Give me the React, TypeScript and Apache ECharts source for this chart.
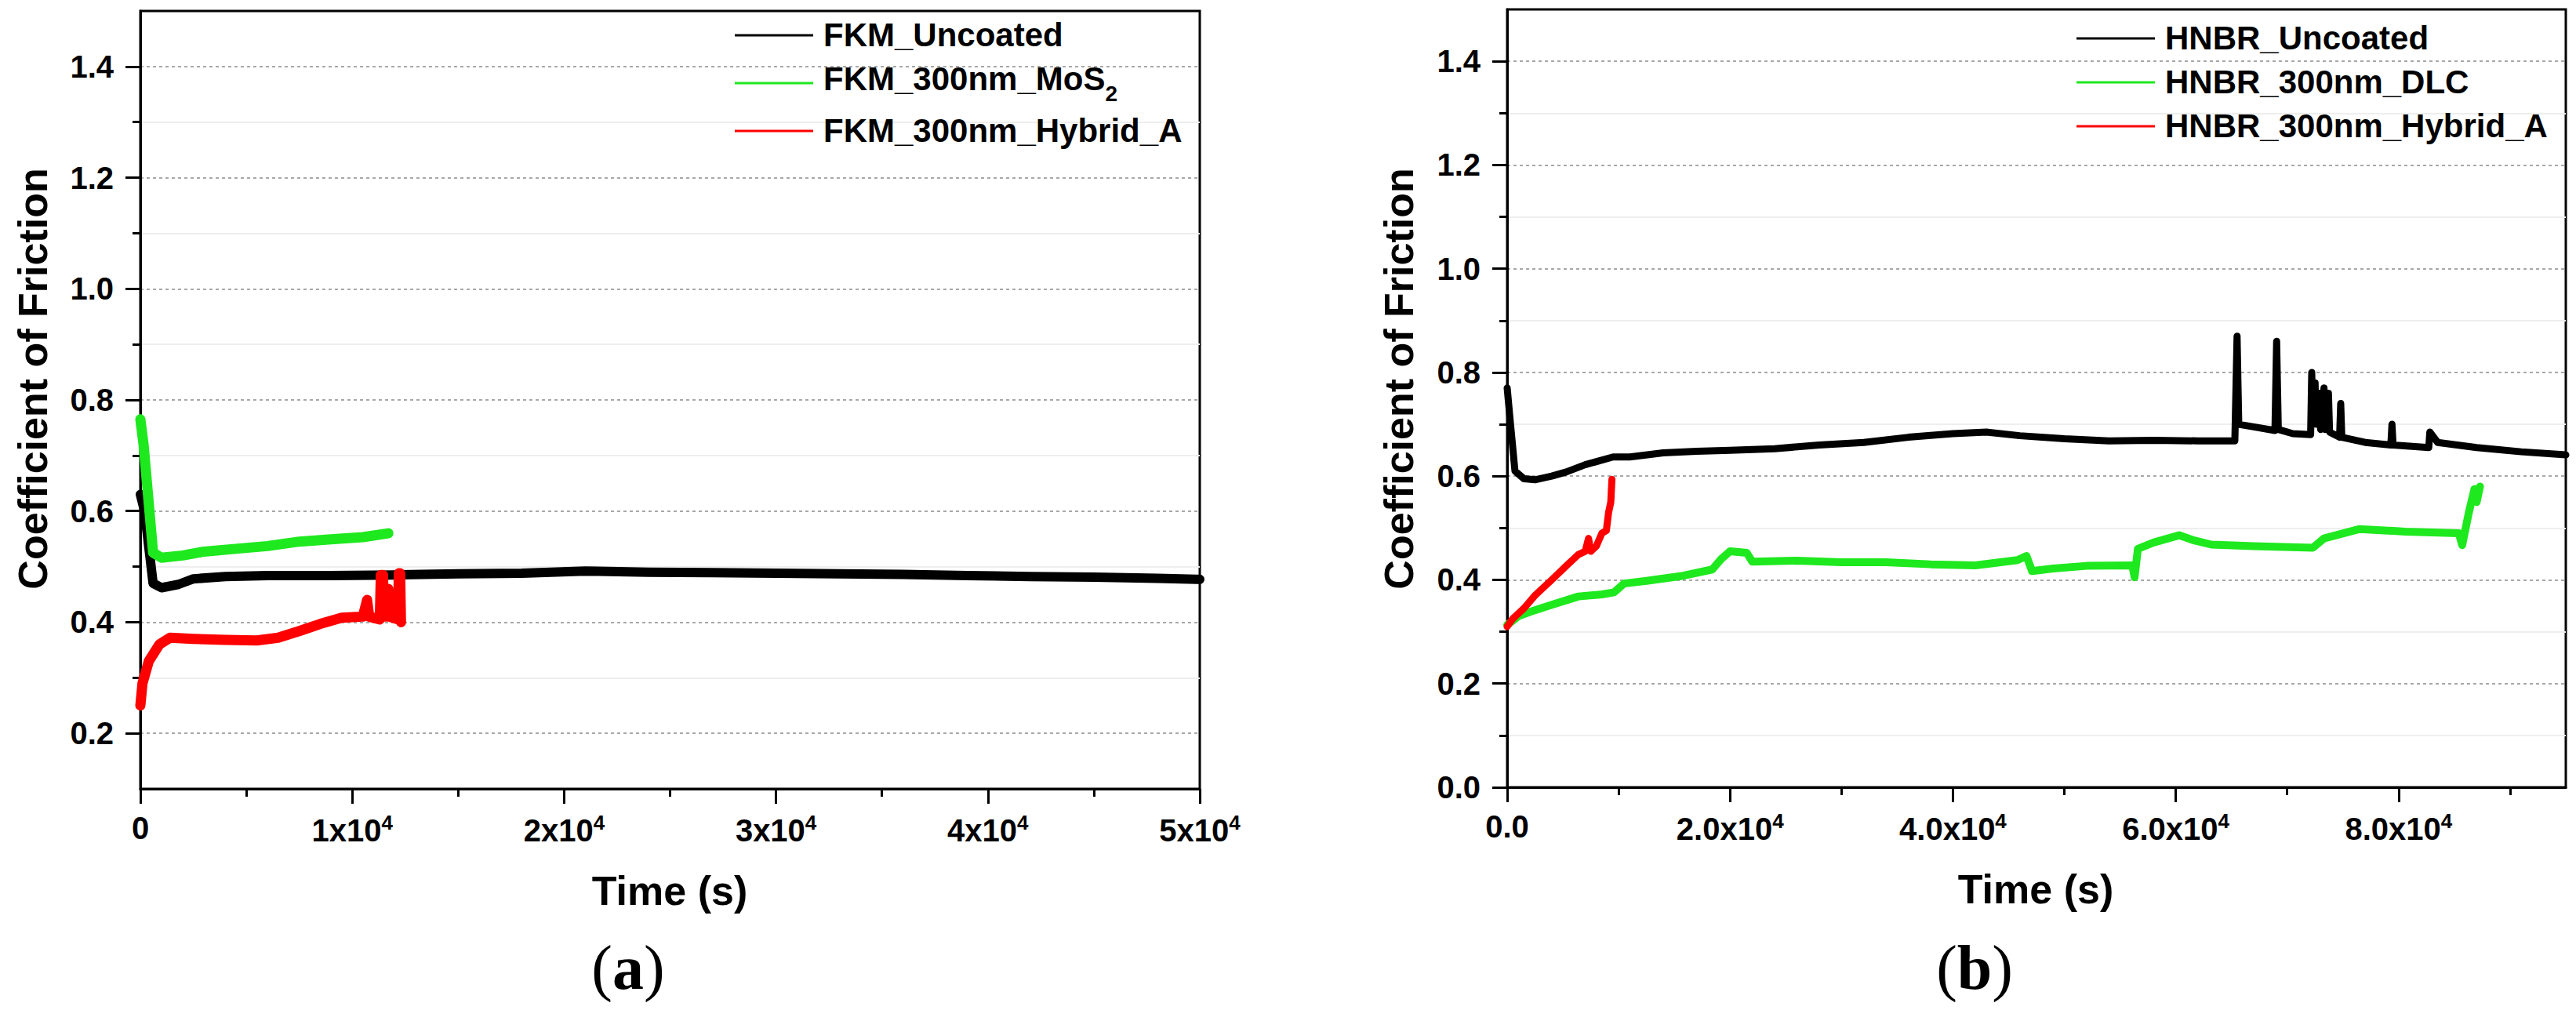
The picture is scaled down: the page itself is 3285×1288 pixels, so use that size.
import React, { useEffect, useRef } from "react";
import * as echarts from "echarts";

// ---------- tick values ----------
const leftXMajor = [0, 10000, 20000, 30000, 40000, 50000];
const leftXMinor = [5000, 15000, 25000, 35000, 45000];
const leftYMajor = [0.2, 0.4, 0.6, 0.8, 1.0, 1.2, 1.4];
const leftYMinor = [0.3, 0.5, 0.7, 0.9, 1.1, 1.3];
const rightXMajor = [0, 20000, 40000, 60000, 80000];
const rightXMinor = [10000, 30000, 50000, 70000, 90000];
const rightYMajor = [0, 0.2, 0.4, 0.6, 0.8, 1.0, 1.2, 1.4];
const rightYMinor = [0.1, 0.3, 0.5, 0.7, 0.9, 1.1, 1.3];

// ---------- series names ----------
const leftNames = ["FKM_Uncoated", "FKM_300nm_MoS2", "FKM_300nm_Hybrid_A"];
const rightNames = ["HNBR_Uncoated", "HNBR_300nm_DLC", "HNBR_300nm_Hybrid_A"];

// ---------- (a) FKM data: [time s, COF] ----------
const fkmUncoated = [
  [0, 0.63], [200, 0.6], [600, 0.47], [1000, 0.462], [1800, 0.468], [2500, 0.478],
  [4000, 0.482], [6000, 0.484], [9000, 0.484], [12000, 0.485], [15000, 0.487],
  [18000, 0.488], [21000, 0.492], [24000, 0.49], [27000, 0.489], [30000, 0.488],
  [33000, 0.487], [36000, 0.486], [39000, 0.484], [42000, 0.482], [45000, 0.481],
  [48000, 0.479], [50000, 0.477],
];
const fkmMoS2 = [
  [0, 0.765], [150, 0.72], [600, 0.525], [1000, 0.516], [2000, 0.52], [3000, 0.527],
  [4500, 0.532], [6000, 0.537], [7500, 0.545], [9000, 0.549], [10500, 0.553], [11700, 0.56],
];
const fkmHybrid = [
  [0, 0.25], [100, 0.29], [400, 0.33], [900, 0.36], [1400, 0.372], [2500, 0.37],
  [4000, 0.368], [5500, 0.367], [6500, 0.372], [7500, 0.384], [8500, 0.397],
  [9500, 0.408], [10500, 0.41], [10700, 0.44], [10800, 0.41], [11300, 0.405],
  [11350, 0.485], [11450, 0.485], [11500, 0.41], [11650, 0.41], [11700, 0.46],
  [11750, 0.41], [12150, 0.405], [12200, 0.488], [12260, 0.488], [12300, 0.4],
];

// ---------- (b) HNBR data: [time s, COF] ----------
const hnbrUncoated = [
  [0, 0.77], [300, 0.7], [700, 0.61], [1500, 0.595], [2500, 0.593], [4000, 0.6],
  [5300, 0.608], [7000, 0.622], [9500, 0.637], [11000, 0.637], [14000, 0.645],
  [17000, 0.648], [20000, 0.65], [24000, 0.653], [28000, 0.66], [32000, 0.665],
  [36000, 0.675], [40000, 0.682], [43000, 0.685], [46000, 0.678], [50000, 0.672],
  [54000, 0.668], [58000, 0.669], [62000, 0.668], [65300, 0.668], [65500, 0.87],
  [65650, 0.7], [67000, 0.695], [68900, 0.688], [69050, 0.86], [69200, 0.69],
  [70500, 0.682], [72100, 0.68], [72200, 0.8], [72300, 0.7], [72500, 0.78],
  [72600, 0.7], [72900, 0.76], [73000, 0.69], [73300, 0.77], [73400, 0.69],
  [73700, 0.76], [73800, 0.685], [74700, 0.675], [74800, 0.74], [74900, 0.675],
  [77000, 0.665], [79300, 0.66], [79400, 0.7], [79500, 0.66], [82700, 0.655],
  [82800, 0.685], [83500, 0.665], [87000, 0.655], [91000, 0.647], [95000, 0.641],
];
const hnbrDLC = [
  [0, 0.313], [1000, 0.33], [2000, 0.338], [4000, 0.352], [6400, 0.368], [8500, 0.372],
  [9600, 0.376], [10500, 0.393], [12500, 0.398], [15800, 0.408], [18400, 0.42],
  [19200, 0.44], [20000, 0.455], [21500, 0.452], [22000, 0.435], [26000, 0.437],
  [30000, 0.434], [34000, 0.434], [38000, 0.43], [42000, 0.428], [45800, 0.438],
  [46600, 0.446], [47100, 0.417], [49000, 0.422], [52000, 0.427], [56100, 0.428],
  [56300, 0.405], [56600, 0.46], [58000, 0.472], [60300, 0.486], [61500, 0.477],
  [63200, 0.468], [67000, 0.465], [72300, 0.462], [73300, 0.48], [76500, 0.498],
  [80600, 0.493], [85400, 0.49], [85700, 0.467], [86300, 0.53], [86800, 0.575],
  [87000, 0.55], [87300, 0.58],
];
const hnbrHybrid = [
  [0, 0.31], [500, 0.325], [1500, 0.345], [2500, 0.37], [3900, 0.398], [5200, 0.425],
  [6400, 0.449], [7000, 0.455], [7300, 0.48], [7500, 0.455], [8000, 0.465],
  [8500, 0.49], [8900, 0.495], [9100, 0.53], [9300, 0.55], [9400, 0.594],
];

const FONT = '"Liberation Sans", Arial, Helvetica, sans-serif';
const SERIF = '"Liberation Serif", "Times New Roman", serif';

const supRich = {
  m: { fontFamily: FONT, fontSize: 40, fontWeight: "bold", color: "#000", lineHeight: 46 },
  s: { fontFamily: FONT, fontSize: 26, fontWeight: "bold", color: "#000", lineHeight: 18, verticalAlign: "top" },
};

const legendRich = {
  t: { fontFamily: FONT, fontSize: 42, fontWeight: "bold", color: "#000", lineHeight: 44, verticalAlign: "top" },
  s: { fontFamily: FONT, fontSize: 28, fontWeight: "bold", color: "#000", lineHeight: 32, verticalAlign: "bottom" },
  z: { fontFamily: FONT, fontSize: 2, color: "#000", lineHeight: 54, verticalAlign: "top" },
};

function legendFormatter(name: string) {
  if (name.endsWith("MoS2")) return `{t|${name.slice(0, -1)}}{s|2}{z| }`;
  return `{t|${name}}`;
}

function majorX(gridIndex: number, min: number, max: number, ticks: number[], fmt: (v: number) => string) {
  return {
    type: "value", gridIndex, min, max, position: "bottom",
    axisLine: { show: true, onZero: false, lineStyle: { color: "#000", width: 3 } },
    axisTick: { show: true, inside: false, length: 19, lineStyle: { color: "#000", width: 3 }, customValues: ticks },
    axisLabel: {
      show: true, customValues: ticks, margin: 30, formatter: fmt, color: "#000",
      fontFamily: FONT, fontSize: 40, fontWeight: "bold", rich: supRich,
    },
    splitLine: { show: false }, minorTick: { show: false }, minorSplitLine: { show: false },
  };
}

function majorY(gridIndex: number, min: number, max: number, ticks: number[]) {
  return {
    type: "value", gridIndex, min, max, position: "left",
    axisLine: { show: true, onZero: false, lineStyle: { color: "#000", width: 3 } },
    axisTick: { show: true, inside: false, length: 19, lineStyle: { color: "#000", width: 3 }, customValues: ticks },
    axisLabel: {
      show: true, customValues: ticks, margin: 34, formatter: (v: number) => v.toFixed(1),
      color: "#000", fontFamily: FONT, fontSize: 40, fontWeight: "bold",
    },
    splitLine: { show: true, lineStyle: { color: "#a8a8a8", width: 2, type: [4, 4] } },
    minorTick: { show: false }, minorSplitLine: { show: false },
  };
}

function minorAxis(gridIndex: number, min: number, max: number, ticks: number[], position: string, faint: boolean) {
  return {
    type: "value", gridIndex, min, max, position, offset: 0,
    axisLine: { show: false, onZero: false },
    axisTick: { show: true, inside: false, length: 10, lineStyle: { color: "#000", width: 3 }, customValues: ticks },
    axisLabel: { show: false },
    splitLine: { show: faint, lineStyle: { color: "#eeeeee", width: 2, type: "solid" } },
    minorTick: { show: false }, minorSplitLine: { show: false },
  };
}

function lineSeries(name: string, data: number[][], color: string, xi: number, yi: number, width: number, z: number) {
  return {
    name, type: "line", data, xAxisIndex: xi, yAxisIndex: yi, showSymbol: false, symbol: "none",
    lineStyle: { color, width, join: "round", cap: "round" }, itemStyle: { color },
    emphasis: { disabled: true }, z, clip: true,
  };
}

const leftXFmt = (v: number) => (v === 0 ? "0" : `{m|${v / 10000}x10}{s|4}`);
const rightXFmt = (v: number) => (v === 0 ? "0.0" : `{m|${(v / 10000).toFixed(1)}x10}{s|4}`);

export default function App() {
  const ref = useRef<HTMLDivElement>(null);
  useEffect(() => {
    if (!ref.current) return;
    const chart = echarts.init(ref.current, null, { renderer: "svg" });
    const legendCommon = {
      orient: "vertical", icon: "rect", itemWidth: 100, itemHeight: 3, itemGap: 12, padding: 0,
      selectedMode: false,
      textStyle: { fontFamily: FONT, fontSize: 42, fontWeight: "bold", color: "#000", lineHeight: 44, padding: [0, 0, 0, 8], rich: legendRich },
      formatter: legendFormatter,
    };
    const titleText = { fontFamily: FONT, fontSize: 52, fontWeight: "bold", fill: "#000" };
    const panelLabelRich = {
      p: { fontFamily: SERIF, fontSize: 80, fontWeight: "normal", fill: "#000", color: "#000" },
      b: { fontFamily: SERIF, fontSize: 80, fontWeight: "bold", fill: "#000", color: "#000" },
    };
    chart.setOption({
      animation: false,
      backgroundColor: "#fff",
      grid: [
        { left: 179, top: 14, width: 1351, height: 992, show: true, borderColor: "#000", borderWidth: 3, backgroundColor: "transparent", containLabel: false, outerBoundsMode: "none" },
        { left: 1922, top: 12, width: 1350, height: 992, show: true, borderColor: "#000", borderWidth: 3, backgroundColor: "transparent", containLabel: false, outerBoundsMode: "none" },
      ],
      xAxis: [
        majorX(0, 0, 50000, leftXMajor, leftXFmt),
        minorAxis(0, 0, 50000, leftXMinor, "bottom", false),
        majorX(1, 0, 95000, rightXMajor, rightXFmt),
        minorAxis(1, 0, 95000, rightXMinor, "bottom", false),
      ],
      yAxis: [
        majorY(0, 0.1, 1.5, leftYMajor),
        minorAxis(0, 0.1, 1.5, leftYMinor, "left", true),
        majorY(1, 0, 1.5, rightYMajor),
        minorAxis(1, 0, 1.5, rightYMinor, "left", true),
      ],
      legend: [
        { ...legendCommon, left: 937, top: 23, data: leftNames },
        { ...legendCommon, left: 2648, top: 27, data: rightNames },
      ],
      series: [
        lineSeries(leftNames[0], fkmUncoated, "#000000", 0, 0, 12, 3),
        lineSeries(leftNames[1], fkmMoS2, "#1ee81e", 0, 0, 13, 4),
        lineSeries(leftNames[2], fkmHybrid, "#ff0000", 0, 0, 13, 5),
        lineSeries(rightNames[0], hnbrUncoated, "#000000", 2, 2, 9, 3),
        lineSeries(rightNames[1], hnbrDLC, "#1ee81e", 2, 2, 10, 4),
        lineSeries(rightNames[2], hnbrHybrid, "#ff0000", 2, 2, 9, 5),
      ],
      graphic: [
        { type: "text", x: 42, y: 483, rotation: Math.PI / 2, style: { ...titleText, text: "Coefficient of Friction", align: "center", verticalAlign: "middle", textAlign: "center", textVerticalAlign: "middle" } },
        { type: "text", x: 1784, y: 483, rotation: Math.PI / 2, style: { ...titleText, text: "Coefficient of Friction", align: "center", verticalAlign: "middle", textAlign: "center", textVerticalAlign: "middle" } },
        { type: "text", x: 854, y: 1136, style: { ...titleText, text: "Time (s)", align: "center", verticalAlign: "middle", textAlign: "center", textVerticalAlign: "middle" } },
        { type: "text", x: 2596, y: 1134, style: { ...titleText, text: "Time (s)", align: "center", verticalAlign: "middle", textAlign: "center", textVerticalAlign: "middle" } },
        { type: "text", x: 801, y: 1234, style: { text: "{p|(}{b|a}{p|)}", rich: panelLabelRich, fill: "#000", align: "center", verticalAlign: "middle", textAlign: "center", textVerticalAlign: "middle" } },
        { type: "text", x: 2518, y: 1234, style: { text: "{p|(}{b|b}{p|)}", rich: panelLabelRich, fill: "#000", align: "center", verticalAlign: "middle", textAlign: "center", textVerticalAlign: "middle" } },
      ],
    });
    return () => chart.dispose();
  }, []);
  return (
    <div
      ref={ref}
      style={{ position: "fixed", left: 0, top: 0, width: 3285, height: 1288, background: "#fff" }}
    />
  );
}
